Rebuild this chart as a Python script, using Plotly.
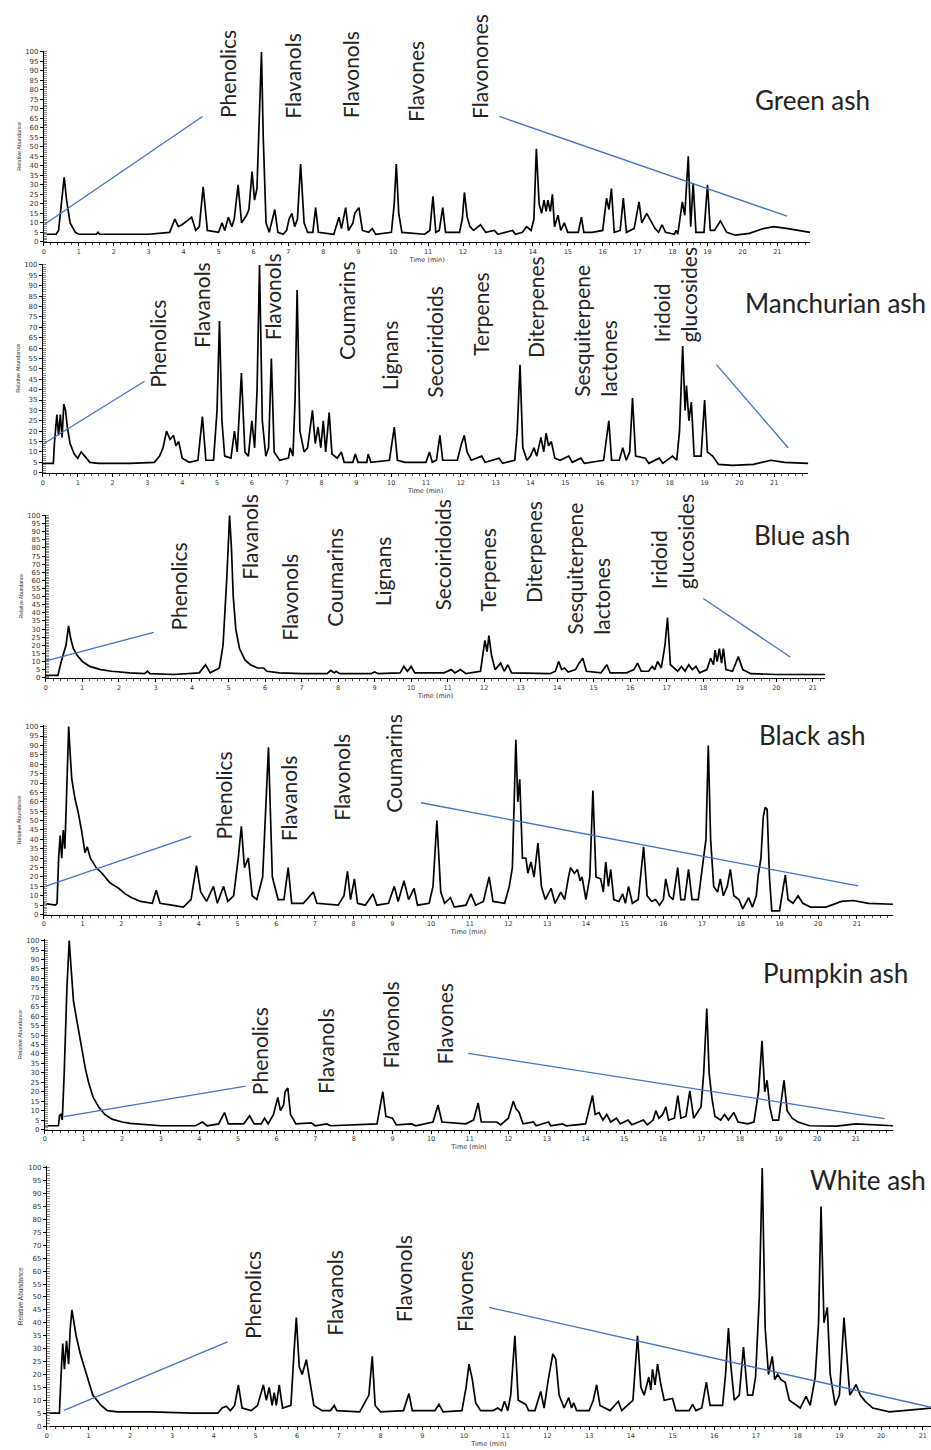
import plotly.graph_objects as go

W, H = 931, 1450

# ---------------- data: (retention time [min], relative abundance [%]) ----------------
green_ash = [
    (0, 4), (0.35, 4), (0.42, 6), (0.5, 22), (0.58, 34), (0.65, 22), (0.75, 10), (0.9, 5), (1.0, 4),
    (1.5, 4), (1.55, 5), (1.6, 4), (3.0, 4), (3.6, 5), (3.75, 12), (3.85, 8), (3.95, 9), (4.1, 11),
    (4.23, 13), (4.35, 6), (4.45, 8), (4.56, 29), (4.68, 6), (5.0, 5), (5.1, 10), (5.18, 6), (5.28, 13),
    (5.38, 8), (5.45, 12), (5.56, 30), (5.66, 10), (5.8, 14), (5.87, 17), (5.96, 37), (6.03, 22),
    (6.1, 28), (6.18, 70), (6.23, 100), (6.28, 55), (6.36, 10), (6.45, 5), (6.61, 17), (6.7, 5),
    (6.85, 4), (6.95, 6), (7.02, 12), (7.1, 15), (7.18, 8), (7.26, 12), (7.35, 41), (7.45, 10),
    (7.55, 5), (7.7, 5), (7.78, 18), (7.86, 5), (8.3, 4), (8.4, 10), (8.45, 13), (8.52, 7), (8.64, 18),
    (8.72, 6), (8.85, 10), (8.9, 15), (9.02, 18), (9.12, 6), (9.3, 5), (9.4, 7), (9.5, 4), (9.95, 5),
    (10.03, 20), (10.09, 41), (10.16, 15), (10.25, 5), (10.9, 4), (11.05, 6), (11.14, 24), (11.22, 5),
    (11.32, 6), (11.42, 18), (11.5, 5), (11.9, 5), (11.98, 12), (12.04, 26), (12.12, 13), (12.2, 8),
    (12.3, 6), (12.5, 9), (12.65, 5), (12.9, 6), (13.0, 4), (13.42, 6), (13.5, 4), (13.7, 5),
    (13.82, 8), (13.95, 6), (14.03, 12), (14.1, 49), (14.18, 20), (14.25, 15), (14.32, 22),
    (14.38, 16), (14.43, 22), (14.5, 16), (14.56, 25), (14.62, 8), (14.72, 14), (14.8, 6), (14.9, 10),
    (15.0, 5), (15.3, 5), (15.39, 13), (15.46, 5), (15.7, 5), (16.0, 6), (16.11, 23), (16.18, 17),
    (16.25, 28), (16.33, 5), (16.5, 6), (16.59, 23), (16.68, 5), (16.9, 7), (17.04, 21), (17.12, 10),
    (17.26, 15), (17.4, 10), (17.5, 7), (17.6, 5), (17.7, 9), (17.8, 5), (18.05, 4), (18.1, 6),
    (18.15, 4), (18.28, 21), (18.35, 14), (18.45, 45), (18.52, 8), (18.59, 31), (18.67, 5), (18.9, 5),
    (19.0, 30), (19.08, 6), (19.2, 6), (19.37, 11), (19.55, 5), (19.8, 3.5), (20.2, 4.5), (20.6, 7),
    (20.9, 8), (21.3, 7), (21.94, 5),
]

manchurian_ash = [
    (0, 4.5), (0.3, 4.5), (0.33, 14), (0.4, 28), (0.45, 18), (0.5, 28), (0.55, 17), (0.6, 33),
    (0.65, 30), (0.7, 22), (0.78, 14), (0.9, 9), (1.0, 7), (1.1, 10), (1.2, 8), (1.35, 5), (1.6, 4.5),
    (2.5, 4.5), (3.2, 5), (3.35, 8), (3.45, 12), (3.55, 20), (3.65, 16), (3.75, 18), (3.82, 13),
    (3.9, 15), (4.0, 7), (4.2, 5), (4.45, 6), (4.58, 27), (4.68, 6), (4.9, 6), (5.0, 30), (5.07, 73),
    (5.14, 25), (5.22, 8), (5.4, 7), (5.5, 20), (5.58, 10), (5.7, 48), (5.8, 10), (5.9, 8), (6.0, 25),
    (6.08, 12), (6.15, 40), (6.22, 100), (6.3, 25), (6.4, 8), (6.48, 12), (6.56, 55), (6.64, 10),
    (6.8, 6), (7.05, 7), (7.1, 12), (7.18, 8), (7.24, 35), (7.3, 88), (7.38, 20), (7.5, 10), (7.6, 12),
    (7.74, 30), (7.82, 14), (7.9, 22), (7.98, 12), (8.05, 25), (8.12, 10), (8.22, 29), (8.3, 9),
    (8.45, 7), (8.57, 10), (8.65, 5), (8.9, 5), (8.97, 9), (9.05, 5), (9.3, 5), (9.34, 9), (9.42, 5),
    (9.95, 6), (10.09, 22), (10.18, 6), (10.4, 5), (11.0, 5), (11.1, 10), (11.18, 5), (11.3, 6),
    (11.4, 18), (11.48, 6), (11.9, 6), (12.02, 14), (12.1, 18), (12.18, 10), (12.3, 6), (12.6, 8),
    (12.7, 5), (13.1, 7), (13.2, 4.5), (13.55, 6), (13.62, 20), (13.7, 52), (13.78, 12), (13.9, 6),
    (14.0, 8), (14.1, 12), (14.18, 8), (14.3, 17), (14.38, 10), (14.45, 19), (14.52, 13), (14.6, 15),
    (14.7, 7), (14.85, 6), (15.1, 8), (15.2, 5), (15.45, 7), (15.55, 4.5), (16.1, 6), (16.25, 25),
    (16.33, 6), (16.55, 6), (16.65, 12), (16.75, 6), (16.85, 10), (16.93, 36), (17.02, 8), (17.3, 7),
    (17.4, 4.5), (17.7, 7), (17.8, 4.5), (18.08, 8), (18.2, 6), (18.28, 20), (18.37, 61), (18.44, 30),
    (18.48, 42), (18.55, 25), (18.62, 34), (18.7, 8), (18.9, 8), (19.0, 35), (19.08, 10), (19.23, 8),
    (19.4, 4), (19.8, 3.5), (20.4, 4), (20.9, 6), (21.3, 5), (21.98, 4.5),
]

blue_ash = [
    (0, 1.5), (0.33, 1.5), (0.42, 10), (0.5, 17), (0.55, 20), (0.62, 32), (0.68, 24), (0.75, 18),
    (0.85, 14), (1.0, 10), (1.2, 7), (1.5, 5), (1.8, 4), (2.3, 3), (2.7, 2.5), (2.78, 4), (2.85, 2.5),
    (3.5, 2), (4.2, 3), (4.37, 8), (4.5, 3), (4.75, 6), (4.85, 20), (4.95, 60), (5.03, 100), (5.08, 80),
    (5.13, 50), (5.2, 30), (5.3, 18), (5.45, 11), (5.6, 8), (5.8, 6), (5.96, 6), (6.05, 4), (6.4, 3),
    (7.0, 2.5), (7.7, 2.5), (7.8, 4.5), (7.9, 3), (7.95, 4), (8.05, 2.5), (8.9, 2.5), (9.0, 3.5),
    (9.1, 2.5), (9.7, 3), (9.8, 7), (9.9, 4), (10.0, 7), (10.1, 3), (10.9, 3), (11.1, 5), (11.2, 3),
    (11.35, 5), (11.5, 2.5), (11.9, 4), (12.02, 23), (12.08, 16), (12.13, 26), (12.2, 14), (12.3, 5),
    (12.45, 9), (12.55, 4), (12.65, 8), (12.75, 3), (13.8, 2.5), (13.95, 4), (14.04, 10), (14.12, 5),
    (14.2, 6), (14.3, 3.5), (14.5, 5), (14.6, 9), (14.7, 12), (14.8, 4), (15.2, 3), (15.36, 8),
    (15.45, 3), (15.9, 3), (16.1, 5), (16.2, 9), (16.3, 4), (16.5, 4), (16.6, 7), (16.67, 5),
    (16.75, 10), (16.85, 6), (16.95, 20), (17.02, 37), (17.1, 8), (17.3, 4), (17.4, 7), (17.5, 4),
    (17.6, 8), (17.7, 5), (17.8, 7), (17.9, 3), (18.1, 5), (18.2, 12), (18.28, 8), (18.32, 17),
    (18.38, 10), (18.44, 18), (18.5, 9), (18.55, 18), (18.62, 5), (18.8, 4), (18.96, 13), (19.08, 5),
    (19.3, 2.5), (20.0, 2), (21.34, 2),
]

black_ash = [
    (0, 6), (0.3, 5), (0.34, 6), (0.38, 30), (0.42, 42), (0.46, 30), (0.5, 45), (0.54, 35), (0.58, 60),
    (0.64, 100), (0.68, 85), (0.72, 72), (0.8, 62), (0.89, 54), (0.97, 45), (1.06, 33), (1.12, 36),
    (1.2, 30), (1.35, 25), (1.5, 22), (1.7, 17), (1.93, 14), (2.1, 11), (2.27, 9), (2.5, 7), (2.8, 6),
    (2.9, 13), (3.0, 6), (3.3, 5), (3.6, 4), (3.8, 8), (3.94, 26), (4.05, 12), (4.2, 7), (4.38, 15),
    (4.48, 6), (4.64, 15), (4.75, 7), (4.9, 10), (5.02, 30), (5.1, 47), (5.18, 25), (5.28, 30),
    (5.38, 10), (5.5, 8), (5.65, 20), (5.8, 89), (5.9, 20), (6.05, 8), (6.2, 8), (6.31, 25), (6.4, 6),
    (6.7, 6), (6.96, 12), (7.05, 6), (7.6, 5), (7.75, 10), (7.84, 23), (7.92, 8), (8.02, 19), (8.1, 6),
    (8.3, 5), (8.5, 11), (8.6, 5), (8.9, 6), (9.05, 15), (9.15, 7), (9.3, 18), (9.42, 8), (9.56, 14),
    (9.65, 5), (9.95, 6), (10.05, 15), (10.15, 50), (10.25, 12), (10.35, 6), (10.5, 9), (10.6, 4),
    (10.9, 5), (11.03, 11), (11.15, 5), (11.35, 7), (11.5, 20), (11.6, 7), (11.9, 6), (12.02, 15),
    (12.1, 25), (12.15, 60), (12.19, 93), (12.24, 60), (12.29, 72), (12.36, 30), (12.45, 30),
    (12.5, 22), (12.58, 28), (12.66, 20), (12.76, 38), (12.85, 15), (12.95, 8), (13.1, 14), (13.2, 6),
    (13.35, 12), (13.45, 8), (13.55, 20), (13.6, 25), (13.7, 22), (13.78, 24), (13.85, 18), (13.9, 20),
    (14.0, 8), (14.1, 20), (14.18, 66), (14.26, 20), (14.38, 19), (14.45, 12), (14.51, 28),
    (14.58, 15), (14.64, 24), (14.72, 8), (14.85, 7), (14.95, 11), (15.02, 6), (15.1, 15), (15.2, 6),
    (15.35, 8), (15.49, 36), (15.58, 10), (15.7, 7), (15.8, 8), (15.9, 5), (16.0, 8), (16.06, 19),
    (16.15, 10), (16.25, 8), (16.37, 25), (16.45, 8), (16.55, 8), (16.65, 24), (16.74, 8), (16.9, 8),
    (17.04, 29), (17.1, 40), (17.16, 90), (17.22, 40), (17.3, 15), (17.4, 12), (17.47, 19),
    (17.55, 10), (17.65, 15), (17.73, 24), (17.82, 10), (17.95, 8), (18.05, 3), (18.2, 9), (18.3, 4),
    (18.4, 10), (18.45, 21), (18.52, 30), (18.58, 52), (18.63, 57), (18.68, 56), (18.74, 20),
    (18.8, 2), (19.0, 2), (19.1, 15), (19.15, 21), (19.22, 8), (19.35, 6), (19.48, 10), (19.6, 6),
    (19.8, 4), (20.2, 4), (20.6, 7), (20.9, 7.5), (21.3, 6), (21.93, 5.5),
]

pumpkin_ash = [
    (0, 2), (0.35, 2), (0.38, 7.5), (0.42, 8), (0.45, 5), (0.5, 30), (0.57, 75), (0.63, 100),
    (0.68, 85), (0.74, 68), (0.85, 55), (0.96, 42), (1.05, 32), (1.13, 25), (1.25, 17), (1.39, 12),
    (1.55, 8), (1.74, 5.5), (2.0, 4), (2.2, 3.3), (2.6, 2.5), (3.0, 2), (3.9, 2), (4.08, 4), (4.2, 2),
    (4.5, 3), (4.65, 9), (4.75, 3), (5.15, 3), (5.3, 7.3), (5.42, 3), (5.6, 3), (5.69, 6), (5.78, 3),
    (5.92, 8), (6.03, 17), (6.1, 10), (6.18, 13), (6.22, 20), (6.29, 22), (6.36, 8), (6.5, 3),
    (6.9, 3.5), (7.0, 2), (7.3, 3), (7.4, 2), (8.6, 3), (8.68, 12), (8.75, 20), (8.83, 7), (9.0, 6),
    (9.1, 2.5), (9.5, 3), (9.6, 2), (10.05, 4), (10.18, 13), (10.28, 4), (10.9, 3), (11.1, 5),
    (11.22, 14), (11.3, 4), (11.7, 4), (11.8, 2.5), (12.0, 6), (12.13, 15), (12.2, 11), (12.28, 9),
    (12.38, 3), (12.65, 4), (12.72, 2), (13.04, 4), (13.1, 2), (13.4, 3), (13.5, 2), (14.0, 3),
    (14.18, 18), (14.25, 8), (14.35, 9), (14.45, 5), (14.55, 8), (14.65, 4), (14.8, 6), (14.9, 3),
    (15.1, 5), (15.2, 2.5), (15.5, 5), (15.6, 2.5), (15.75, 5), (15.82, 10), (15.9, 6), (16.0, 8),
    (16.08, 12), (16.15, 5), (16.3, 6), (16.39, 18), (16.47, 6), (16.6, 7), (16.7, 20.4), (16.8, 6),
    (16.99, 12), (17.06, 30), (17.14, 64), (17.2, 30), (17.27, 17), (17.35, 7), (17.5, 5), (17.6, 8),
    (17.7, 5), (17.84, 9), (17.95, 4), (18.2, 3), (18.36, 4), (18.48, 20), (18.57, 47), (18.64, 20),
    (18.7, 26), (18.77, 12), (18.85, 5), (19.0, 5), (19.14, 26), (19.22, 10), (19.35, 6), (19.5, 4),
    (19.8, 2), (20.5, 1.8), (21.0, 3), (21.5, 2.5), (21.96, 2),
]

white_ash = [
    (0, 5), (0.3, 5), (0.34, 20), (0.38, 32), (0.42, 22), (0.47, 33), (0.52, 24), (0.56, 38),
    (0.6, 45), (0.65, 40), (0.7, 35), (0.8, 28), (0.95, 20), (1.1, 12), (1.3, 8), (1.45, 6),
    (1.7, 5.5), (2.5, 5.5), (3.5, 5), (4.1, 5), (4.2, 7), (4.3, 7.7), (4.4, 6), (4.5, 8), (4.59, 16),
    (4.68, 7), (4.9, 6), (5.05, 8), (5.12, 12), (5.19, 16), (5.26, 10), (5.33, 15), (5.4, 8),
    (5.45, 13), (5.5, 8), (5.57, 16), (5.65, 7), (5.85, 8), (5.93, 30), (5.98, 42), (6.05, 23),
    (6.12, 20), (6.22, 25.7), (6.3, 18), (6.4, 8), (6.6, 6), (6.8, 6), (6.89, 8), (6.95, 6),
    (7.5, 5.5), (7.72, 12), (7.8, 27), (7.87, 8), (8.0, 5.5), (8.55, 6), (8.68, 12.6), (8.76, 6),
    (9.3, 6), (9.4, 8.4), (9.5, 5.5), (9.95, 6), (10.05, 15), (10.12, 24), (10.2, 18), (10.28, 9),
    (10.4, 6), (10.7, 6), (10.81, 7), (10.9, 6), (10.97, 9.6), (11.05, 6), (11.12, 12), (11.22, 35),
    (11.3, 10), (11.48, 8.4), (11.55, 6), (11.7, 6), (11.84, 13.4), (11.92, 7), (12.02, 18),
    (12.13, 28), (12.2, 26), (12.28, 12), (12.4, 7), (12.51, 11), (12.58, 7), (12.63, 9), (12.7, 6),
    (13.0, 6), (13.1, 10), (13.18, 16), (13.26, 8), (13.5, 6), (13.7, 9.6), (13.78, 6), (14.05, 10),
    (14.16, 35), (14.24, 15), (14.32, 12), (14.43, 19), (14.48, 14), (14.52, 22), (14.58, 16),
    (14.64, 24), (14.72, 16), (14.8, 10), (15.0, 10.7), (15.08, 6), (15.4, 6), (15.48, 8.4),
    (15.56, 6), (15.7, 7), (15.81, 17), (15.9, 8), (16.2, 8), (16.27, 20), (16.34, 38), (16.4, 23),
    (16.48, 10), (16.6, 12), (16.7, 30.6), (16.8, 12), (16.92, 12), (16.99, 19), (17.08, 50),
    (17.15, 100), (17.22, 38), (17.3, 20), (17.39, 27), (17.45, 18), (17.52, 20), (17.6, 18),
    (17.7, 17), (17.8, 10), (18.06, 7), (18.2, 11.5), (18.3, 8), (18.42, 19), (18.5, 40),
    (18.56, 85), (18.63, 40), (18.71, 46), (18.78, 20), (18.9, 8), (19.0, 12), (19.11, 42),
    (19.18, 27), (19.25, 12), (19.4, 16), (19.5, 12), (19.62, 9.6), (19.8, 7), (20.2, 5.5),
    (20.6, 6), (21.2, 7),
]

species = ["Green ash", "Manchurian ash", "Blue ash", "Black ash", "Pumpkin ash", "White ash"]
series = [green_ash, manchurian_ash, blue_ash, black_ash, pumpkin_ash, white_ash]

y_tick_vals = list(range(0, 101, 5))
x_tick_vals = list(range(0, 23))

# compound-class labels per panel
class_labels = [
    ["Phenolics", "Flavanols", "Flavonols", "Flavones", "Flavonones"],
    ["Phenolics", "Flavanols", "Flavonols", "Coumarins", "Lignans", "Secoiridoids", "Terpenes",
     "Diterpenes", "Sesquiterpene<br>lactones", "Iridoid<br>glucosides"],
    ["Phenolics", "Flavanols", "Flavonols", "Coumarins", "Lignans", "Secoiridoids", "Terpenes",
     "Diterpenes", "Sesquiterpene<br>lactones", "Iridoid<br>glucosides"],
    ["Phenolics", "Flavanols", "Flavonols", "Coumarins"],
    ["Phenolics", "Flavanols", "Flavonols", "Flavones"],
    ["Phenolics", "Flavanols", "Flavonols", "Flavones"],
]

# ---------------- layout geometry (pixels) ----------------
# x0: pixel of t=0, x1: right end of axis, ppm: pixels per minute, ytop: pixel of 100 %, ybot: pixel of 0 %
geom = [
    dict(x0=42, x1=810, ppm=35.0, ytop=48, ybot=240, ytitle=5.5),
    dict(x0=41, x1=808, ppm=34.9, ytop=262, ybot=472, ytitle=5.5),
    dict(x0=44, x1=825, ppm=36.6, ytop=514, ybot=678, ytitle=5.0),
    dict(x0=42, x1=893, ppm=38.8, ytop=726, ybot=916, ytitle=5.5),
    dict(x0=43, x1=893, ppm=38.7, ytop=941, ybot=1132, ytitle=5.5),
    dict(x0=45, x1=931, ppm=41.8, ytop=1169, ybot=1430, ytitle=6.5),
]

# blue guide lines per panel in data units: ((t0, v0, t1, v1), ...)
guides = [
    [(0, 9, 4.54, 66), (13.04, 66, 21.28, 13.5)],
    [(0, 13.7, 2.92, 44), (19.34, 52, 21.4, 12)],
    [(0, 10.4, 2.95, 28), (18.0, 48.8, 20.38, 12.8)],
    [(0, 14.7, 3.81, 41.6), (9.74, 59.5, 21.03, 15.3)],
    [(0.49, 6.8, 5.2, 23), (10.96, 40.3, 21.74, 5.8)],
    [(0.41, 6.1, 4.33, 32.6), (10.6, 46, 21.2, 7.3)],
]

# label placement (pixel centre x, pixel bottom y)
label_pos = [
    [(226, 118), (291, 118), (350, 118), (415, 122), (479, 118)],
    [(155, 389), (200, 349), (271, 341), (346, 361), (388, 391), (434, 399), (480, 356),
     (534, 359), (594, 398), (674, 343)],
    [(177, 633), (248, 581), (288, 643), (333, 629), (381, 608), (441, 613), (487, 613),
     (532, 605), (587, 637), (671, 591)],
    [(222, 843), (288, 844), (340, 824), (392, 816)],
    [(258, 1099), (324, 1098), (389, 1073), (443, 1069)],
    [(251, 1344), (333, 1341), (402, 1328), (463, 1338)],
]
title_pos = [(812, 97, "center"), (835, 301, "center"), (802, 535, "center"),
             (812, 736, "center"), (835, 975, "center"), (928, 1183, "right")]

BLUE = "#4472C4"
LABEL_FONT = "Lato"
TICK_FONT = "DejaVu Sans"

fig = go.Figure()
layout = dict(
    width=W, height=H, margin=dict(l=0, r=0, t=0, b=0),
    paper_bgcolor="white", plot_bgcolor="white", showlegend=False,
    shapes=[], annotations=[],
)

for i, (name, data, g) in enumerate(zip(species, series, geom)):
    n = i + 1
    xa = "x" if n == 1 else f"x{n}"
    ya = "y" if n == 1 else f"y{n}"
    t = [p[0] for p in data]
    v = [p[1] for p in data]
    fig.add_trace(go.Scatter(x=t, y=v, mode="lines", xaxis=xa, yaxis=ya,
                             line=dict(color="black", width=1.7), hoverinfo="skip"))
    xmax = (g["x1"] - g["x0"]) / g["ppm"]
    layout["xaxis" if n == 1 else f"xaxis{n}"] = dict(
        domain=[g["x0"] / W, g["x1"] / W], range=[0, xmax], anchor=ya,
        showline=True, linecolor="black", linewidth=1, showgrid=False, zeroline=False,
        ticks="outside", ticklen=3, tickwidth=1, tickcolor="black",
        tickvals=x_tick_vals, ticktext=[str(k) for k in x_tick_vals],
        tickfont=dict(family=TICK_FONT, size=6.5, color="#333"),
        minor=dict(dtick=0.2, tick0=0, ticks="outside", ticklen=2, tickcolor="#444"),
        title=dict(text="Time (min)", font=dict(family=TICK_FONT, size=6.5, color="#333"), standoff=1),
    )
    layout["yaxis" if n == 1 else f"yaxis{n}"] = dict(
        domain=[1 - g["ybot"] / H, 1 - g["ytop"] / H], range=[0, 100.6], anchor=xa,
        showline=True, linecolor="black", linewidth=1, showgrid=False, zeroline=False,
        ticks="outside", ticklen=3, tickwidth=1, tickcolor="black",
        tickvals=y_tick_vals, ticktext=[str(k) for k in y_tick_vals],
        tickfont=dict(family=TICK_FONT, size=7, color="#333"),
        minor=dict(dtick=1, tick0=0, ticks="inside", ticklen=3, tickcolor="#888"),
        title=dict(text="Relative Abundance", font=dict(family="Liberation Sans", size=g["ytitle"], color="#333"),
                   standoff=3),
    )
    for (t0, v0, t1, v1) in guides[i]:
        layout["shapes"].append(dict(type="line", xref=xa, yref=ya, x0=t0, y0=v0, x1=t1, y1=v1,
                                     line=dict(color=BLUE, width=1.3)))
    for text, (px, py) in zip(class_labels[i], label_pos[i]):
        layout["annotations"].append(dict(
            text=text, xref="paper", yref="paper", x=px / W, y=1 - py / H,
            xanchor="center", yanchor="bottom", textangle=-90, showarrow=False, align="left",
            font=dict(family=LABEL_FONT, size=21, color="#222")))
    tx, ty, anc = title_pos[i]
    layout["annotations"].append(dict(
        text=name, xref="paper", yref="paper", x=tx / W, y=1 - ty / H,
        xanchor=anc, yanchor="middle", showarrow=False,
        font=dict(family=LABEL_FONT, size=26, color="#222")))

fig.update_layout(**layout)
fig.write_html("out.html")
